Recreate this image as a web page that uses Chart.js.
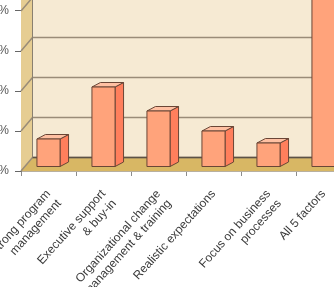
<!DOCTYPE html>
<html>
<head>
<meta charset="utf-8">
<script src="https://cdn.jsdelivr.net/npm/chart.js@4"></script>
<style>
  html, body { margin: 0; padding: 0; background: #fff; }
  #wrap { position: relative; width: 334px; height: 287px; overflow: hidden; }
  #chart { position: absolute; left: -40px; top: -50px; }
</style>
</head>
<body>
<div id="wrap"><canvas id="chart" width="414" height="337"></canvas></div>
<script>
// categorias (etiquetas del eje x)
const categories = [
  ['Strong program', 'management'],
  ['Executive support', '& buy-in'],
  ['Organizational change', 'management & training'],
  'Realistic expectations',
  ['Focus on business', 'processes'],
  'All 5 factors'
];
// porcentajes por factor
const values = [7, 20, 14, 9, 6, 45];
// eje y
const yMin = 0;
const yMax = 50;
const yStep = 10;

// profundidad 3D
const DX = 11.5, DY = -13.5;      // pared del fondo
const BDX = 8.5, BDY = -4.5;      // profundidad de la barra
const LIFT = 4;                   // la barra se apoya un poco atras

const box3d = {
  id: 'box3d',
  beforeDatasetsDraw(chart) {
    const ctx = chart.ctx;
    const a = chart.chartArea;
    const y = chart.scales.y;
    ctx.save();
    // pared del fondo
    ctx.fillStyle = '#f6ead3';
    ctx.fillRect(a.left + DX, a.top + DY, a.right - a.left, a.bottom - a.top);
    // pared izquierda
    ctx.fillStyle = '#e6cd92';
    ctx.beginPath();
    ctx.moveTo(a.left, a.bottom);
    ctx.lineTo(a.left, a.top);
    ctx.lineTo(a.left + DX, a.top + DY);
    ctx.lineTo(a.left + DX, a.bottom + DY);
    ctx.closePath();
    ctx.fill();
    // piso
    ctx.fillStyle = '#d8b764';
    ctx.beginPath();
    ctx.moveTo(a.left, a.bottom);
    ctx.lineTo(a.right + DX, a.bottom);
    ctx.lineTo(a.right + DX, a.bottom + DY);
    ctx.lineTo(a.left + DX, a.bottom + DY);
    ctx.closePath();
    ctx.fill();
    // lineas de la cuadricula
    ctx.strokeStyle = '#9a8c78';
    ctx.lineWidth = 1.5;
    for (let v = yMin; v <= yMax; v += yStep) {
      const py = y.getPixelForValue(v);
      ctx.beginPath();
      ctx.moveTo(a.left, py);
      ctx.lineTo(a.left + DX, py + DY);
      ctx.lineTo(a.right + DX, py + DY);
      ctx.stroke();
    }
    ctx.strokeStyle = '#5c5246';
    ctx.beginPath();
    ctx.moveTo(a.left + DX, a.bottom + DY);
    ctx.lineTo(a.right + DX, a.bottom + DY);
    ctx.stroke();
    ctx.strokeStyle = '#8a8070';
    ctx.lineWidth = 1;
    ctx.beginPath();
    ctx.moveTo(a.left + DX, a.bottom + DY);
    ctx.lineTo(a.left + DX, a.top + DY);
    ctx.stroke();
    ctx.restore();
  },
  afterDatasetsDraw(chart) {
    const ctx = chart.ctx;
    const meta = chart.getDatasetMeta(0);
    ctx.save();
    ctx.lineWidth = 1;
    ctx.strokeStyle = '#6a4636';
    ctx.lineJoin = 'round';
    meta.data.forEach(function (bar) {
      const p = bar.getProps(['x', 'y', 'base', 'width'], true);
      const x0 = p.x - p.width / 2, x1 = p.x + p.width / 2;
      const top = p.y - LIFT, base = p.base - LIFT;
      // cara lateral
      ctx.fillStyle = '#ff7f5c';
      ctx.beginPath();
      ctx.moveTo(x1, base);
      ctx.lineTo(x1, top);
      ctx.lineTo(x1 + BDX, top + BDY);
      ctx.lineTo(x1 + BDX, base + BDY);
      ctx.closePath();
      ctx.fill(); ctx.stroke();
      // cara superior
      ctx.fillStyle = '#ffc0a2';
      ctx.beginPath();
      ctx.moveTo(x0, top);
      ctx.lineTo(x1, top);
      ctx.lineTo(x1 + BDX, top + BDY);
      ctx.lineTo(x0 + BDX, top + BDY);
      ctx.closePath();
      ctx.fill(); ctx.stroke();
      // cara frontal
      ctx.fillStyle = '#ffa37b';
      ctx.fillRect(x0, top, x1 - x0, base - top);
      ctx.strokeRect(x0, top, x1 - x0, base - top);
    });
    ctx.restore();
  }
};

new Chart(document.getElementById('chart'), {
  type: 'bar',
  data: {
    labels: categories,
    datasets: [{
      data: values,
      backgroundColor: 'rgba(0,0,0,0)',
      borderWidth: 0,
      categoryPercentage: 1,
      barPercentage: 0.42
    }]
  },
  options: {
    responsive: false,
    devicePixelRatio: 1,
    animation: false,
    layout: { padding: { top: 21, right: 23, left: 0, bottom: 0 } },
    plugins: { legend: { display: false }, tooltip: { enabled: false } },
    scales: {
      x: {
        afterFit: function (s) { s.height = 116; },
        grid: { drawOnChartArea: false, drawTicks: true, tickLength: 5, color: '#8c8c8c', offset: true },
        border: { display: true, color: '#b8b0a0', width: 1 },
        ticks: {
          autoSkip: false, minRotation: 48, maxRotation: 48, padding: 11,
          color: '#3a3a3a', font: { family: 'Liberation Sans', size: 12 }
        }
      },
      y: {
        min: yMin, max: yMax,
        afterFit: function (s) { s.width = 61; },
        grid: { drawOnChartArea: false, drawTicks: true, tickLength: 6, color: '#666' },
        border: { display: true, color: '#777', width: 1 },
        ticks: {
          stepSize: yStep, padding: 6,
          color: '#555', font: { family: 'Liberation Sans', size: 12 },
          callback: function (v) { return v + '%'; }
        }
      }
    }
  },
  plugins: [box3d]
});
</script>
</body>
</html>
